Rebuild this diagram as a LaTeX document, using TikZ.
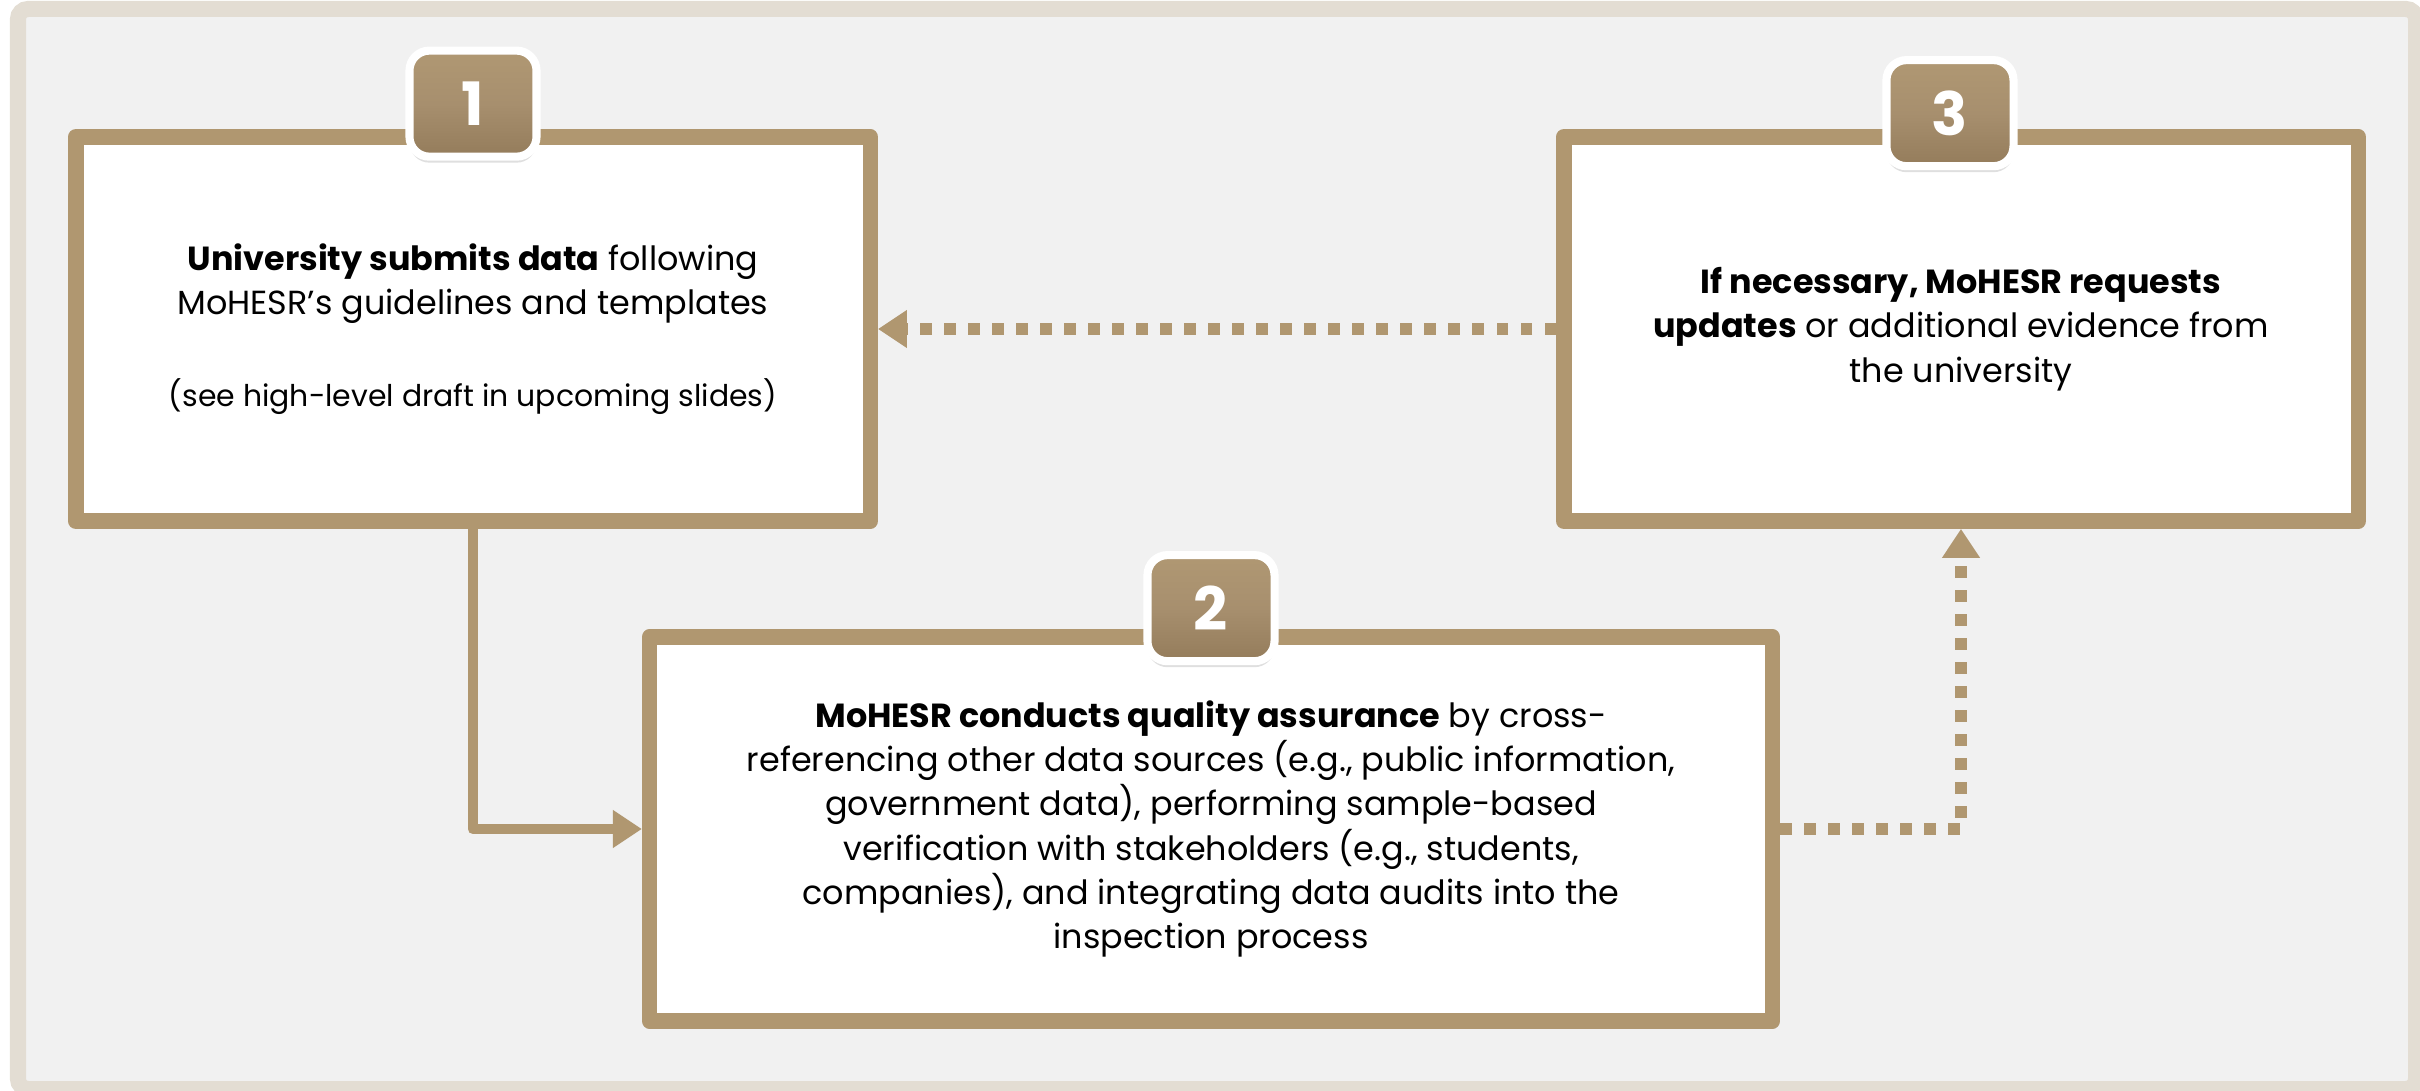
\documentclass[tikz,border=0pt]{standalone}
\usepackage{fontspec}
\setmainfont{Poppins}
\usetikzlibrary{arrows.meta, shapes, shadows, positioning}

\definecolor{frame}{HTML}{E3DDD3}
\definecolor{paper}{HTML}{F1F1F1}
\definecolor{tan}{HTML}{B09770}
\definecolor{badgetop}{HTML}{B09873}
\definecolor{badgemid}{HTML}{A78F6E}
\definecolor{badgebot}{HTML}{947C5B}

\begin{document}
\begin{tikzpicture}[x=0.01cm,y=-0.01cm,>={Triangle[length=2.9mm,width=3.6mm]},
 main box/.style={rectangle,draw=tan,fill=white,line width=4.4pt,line join=round,
  minimum height=3.84cm,align=center,font=\fontsize{9.5}{12.6}\selectfont,
  execute at begin node={\rule{0pt}{4.2mm}}},
 badge/.style={rectangle,rounded corners=2mm,draw=white,line width=2.3pt,
  top color=badgetop,bottom color=badgebot,middle color=badgemid,
  minimum width=1.27cm,minimum height=1.06cm,text=white,
  font=\fontsize{17}{17}\selectfont\bfseries,
  drop shadow={opacity=0.25,shadow xshift=0pt,shadow yshift=-0.6mm}},
 flow/.style={->,draw=tan,line width=3.1pt,line join=round},
 back/.style={->,draw=tan,line width=3.4pt,dash pattern=on 1.15mm off 1.25mm}]

  \useasboundingbox (0,0) rectangle (2420,1091);
  \draw[frame,fill=paper,line width=4.55pt,rounded corners=1mm] (18,9) rectangle (2416,1089);

  \node[main box,minimum width=7.94cm] (b1) at (473,329)
   {\textbf{University submits data} following\\ MoHESR's guidelines and templates\\[4.7mm]
    {\fontsize{8.5}{9}\selectfont (see high-level draft in upcoming slides)}};
  \node[main box,minimum width=11.22cm] (b2) at (1211,829)
   {\textbf{MoHESR conducts quality assurance} by cross-\\
    referencing other data sources (e.g., public information,\\
    government data), performing sample-based\\
    verification with stakeholders (e.g., students,\\
    companies), and integrating data audits into the\\
    inspection process};
  \node[main box,minimum width=7.94cm] (b3) at (1961,329)
   {\textbf{If necessary, MoHESR requests}\\
    \textbf{updates} or additional evidence from\\
    the university};

  \node[badge] (n1) at ([yshift=2.55mm]b1.north) {1};
  \node[badge] (n2) at ([yshift=2.1mm]b2.north) {2};
  \node[badge] (n3) at ([xshift=-1.1mm,yshift=1.6mm]b3.north) {3};

  \draw[flow] (b1.south) |- (b2.west);
  \draw[back] (b2.east) -| (b3.south);
  \draw[back] (b3.west) -- (b1.east);
\end{tikzpicture}
\end{document}
